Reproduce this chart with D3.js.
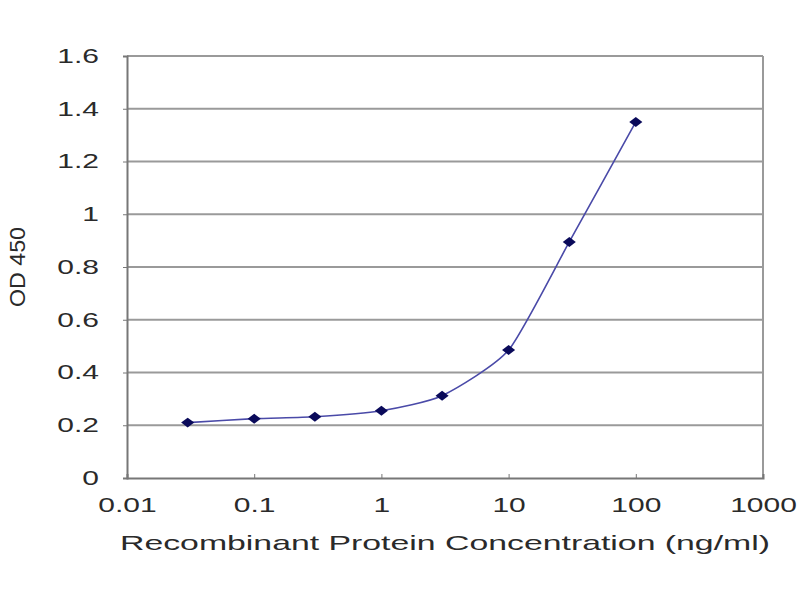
<!DOCTYPE html>
<html>
<head>
<meta charset="utf-8">
<script src="https://cdn.jsdelivr.net/npm/d3@7"></script>
<style>
  body { margin: 0; background: #fff; }
  text { font-family: "Liberation Sans", Arial, sans-serif; fill: #2a2a2a; }
</style>
</head>
<body>
<div id="chart"></div>
<script>
// concentration (ng/ml) and OD 450 readings
var conc = [0.03, 0.1, 0.3, 1, 3, 10, 30, 100];
var od = [0.21, 0.225, 0.232, 0.255, 0.312, 0.485, 0.895, 1.35];
var yTicks = [0, 0.2, 0.4, 0.6, 0.8, 1, 1.2, 1.4, 1.6];
var xTicks = [0.01, 0.1, 1, 10, 100, 1000];

var width = 800;
var height = 600;
var margin = { top: 56, bottom: 122, left: 127, right: 37 };
var w = width - margin.left - margin.right;
var h = height - margin.top - margin.bottom;

var svg = d3.select('#chart')
    .append('svg')
        .attr('width', width)
        .attr('height', height)
    .append('g')
        .attr('transform', 'translate(' + margin.left + ',' + margin.top + ')');

var xScale = d3.scaleLog()
    .domain([0.01, 1000])
    .range([0, w]);

var yScale = d3.scaleLinear()
    .domain([0, 1.6])
    .range([h, 0]);

// horizontal grid lines
svg.selectAll('.grid')
    .data(yTicks.slice(1))
    .enter()
    .append('line')
    .attr('x1', 0)
    .attr('x2', w)
    .attr('y1', function(d) { return yScale(d); })
    .attr('y2', function(d) { return yScale(d); })
    .attr('stroke', '#9a9a9a')
    .attr('stroke-width', 2);

// right border
svg.append('line')
    .attr('x1', w).attr('x2', w)
    .attr('y1', 0).attr('y2', h)
    .attr('stroke', '#9a9a9a')
    .attr('stroke-width', 2);

// y axis
var yAxis = d3.axisLeft(yScale)
    .tickValues(yTicks)
    .tickSize(4)
    .tickPadding(24)
    .tickFormat(function(d) { return d3.format('')(+d.toFixed(1)); });
var gy = svg.append('g').call(yAxis);
gy.select('.domain').attr('stroke', '#777').attr('stroke-width', 2);
gy.selectAll('.tick line').attr('stroke', '#777');
gy.selectAll('text')
    .attr('font-size', 20)
    .attr('fill', '#222')
    .each(function() {
        var t = d3.select(this);
        var x = +t.attr('x');
        t.attr('x', null)
         .attr('transform', 'translate(' + x + ',0) scale(1.5,1)');
    });

// x axis
var xAxis = d3.axisBottom(xScale)
    .tickValues(xTicks)
    .tickSize(-4)
    .tickPadding(20)
    .tickFormat(function(d) { return String(d); });
var gx = svg.append('g')
    .attr('transform', 'translate(0,' + h + ')')
    .call(xAxis);
gx.select('.domain').attr('stroke', '#777').attr('stroke-width', 2);
gx.selectAll('.tick line').attr('stroke', '#777');
gx.selectAll('text')
    .attr('font-size', 20)
    .attr('fill', '#222')
    .each(function() {
        var t = d3.select(this);
        var y = +t.attr('y');
        t.attr('y', null)
         .attr('transform', 'translate(0,' + y + ') scale(1.5,1)');
    });

// x axis label
svg.append('text')
    .attr('x', -7)
    .attr('y', h + 72)
    .attr('font-size', 21)
    .attr('textLength', 650)
    .attr('lengthAdjust', 'spacingAndGlyphs')
    .text('Recombinant Protein Concentration (ng/ml)');

// y axis label
svg.append('text')
    .attr('transform', 'translate(' + (25 - margin.left) + ',' + (267 - margin.top) + ') rotate(-90)')
    .attr('text-anchor', 'middle')
    .attr('font-size', 22)
    .attr('textLength', 80)
    .attr('lengthAdjust', 'spacingAndGlyphs')
    .text('OD 450');

var data = conc.map(function(c, i) { return { c: c, v: od[i] }; });

// line
svg.append('path')
    .datum(data)
    .attr('fill', 'none')
    .attr('stroke', '#4a4aa8')
    .attr('stroke-width', 1.6)
    .attr('d', d3.line()
        .curve(d3.curveCardinal.tension(0.4))
        .x(function(d) { return xScale(d.c); })
        .y(function(d) { return yScale(d.v); })
    );

// diamond markers
svg.selectAll('.pt')
    .data(data)
    .enter()
    .append('path')
    .attr('d', d3.symbol(d3.symbolDiamond2, 70))
    .attr('fill', '#0a0a5a')
    .attr('transform', function(d) {
        return 'translate(' + xScale(d.c) + ',' + yScale(d.v) + ') scale(1.25,0.95)';
    });
</script>
</body>
</html>
